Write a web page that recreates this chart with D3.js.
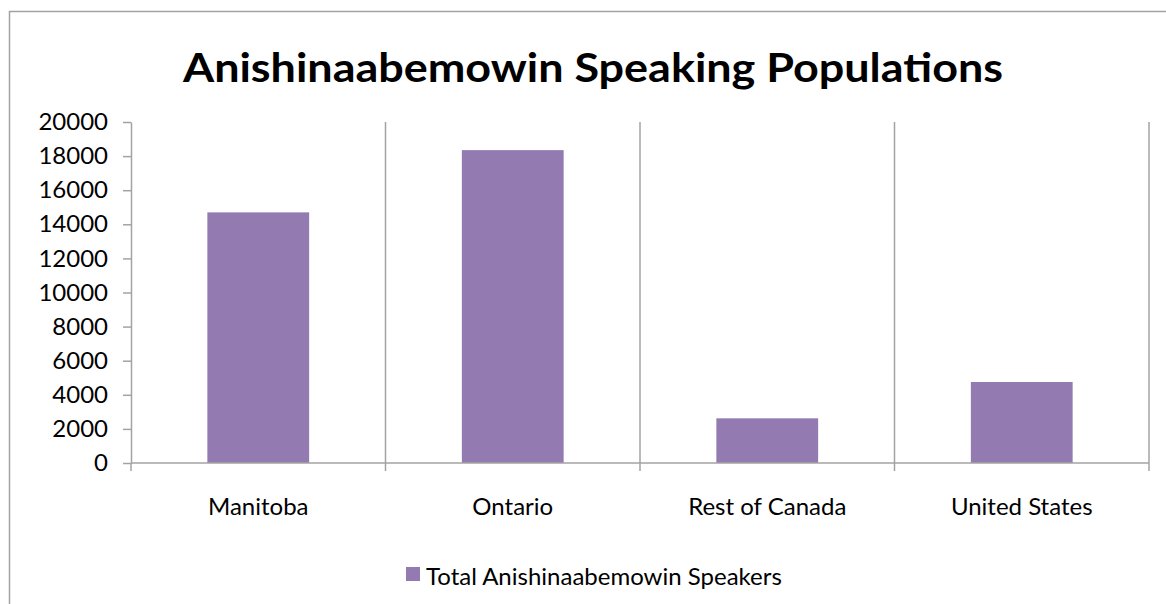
<!DOCTYPE html>
<html lang="en">
<head>
  <meta charset="UTF-8" />
  <title>Anishinaabemowin Speaking Populations</title>
  <script src="https://d3js.org/d3.v7.min.js"></script>
  <style>
    body { margin: 0; background: #fff; }
    text { font-family: Lato, "Open Sans", sans-serif; fill: #000; }
  </style>
</head>
<body>
  <svg width="1166" height="604"></svg>
  <script>
    const categories = ["Manitoba", "Ontario", "Rest of Canada", "United States"];
    const speakers = [14700, 18350, 2620, 4750];
    const yTicks = [0, 2000, 4000, 6000, 8000, 10000, 12000, 14000, 16000, 18000, 20000];
    const seriesName = "Total Anishinaabemowin Speakers";

    const svg = d3.select("svg");
    const barColor = "#937bb2";
    const lineColor = "#a3a3a3";
    const labelSize = 24;

    // outer chart frame
    svg.append("rect")
      .attr("x", 9.5).attr("y", 11.5)
      .attr("width", 1170).attr("height", 600)
      .attr("fill", "none").attr("stroke", lineColor).attr("stroke-width", 1.5);

    const plotLeft = 131, plotRight = 1149, plotTop = 122, plotBottom = 463;

    const x = d3.scaleBand().domain(categories).range([plotLeft, plotRight]).padding(0);
    const y = d3.scaleLinear().domain([0, 20000]).range([plotBottom, plotTop]);

    // title
    svg.append("text")
      .attr("x", 593).attr("y", 82)
      .attr("text-anchor", "middle")
      .attr("font-weight", "bold")
      .attr("font-size", 40)
      .attr("textLength", 820)
      .attr("lengthAdjust", "spacingAndGlyphs")
      .text("Anishinaabemowin Speaking Populations");

    // vertical gridlines at category boundaries
    const bounds = categories.map(c => x(c)).concat([x.range()[1]]);
    svg.append("g").selectAll("line")
      .data(bounds.slice(1))
      .join("line")
      .attr("x1", d => d).attr("x2", d => d)
      .attr("y1", plotTop).attr("y2", plotBottom)
      .attr("stroke", lineColor).attr("stroke-width", 1.5);

    // bars
    const barW = x.bandwidth() * 0.4;
    svg.append("g").selectAll("rect")
      .data(categories)
      .join("rect")
      .attr("x", d => x(d) + (x.bandwidth() - barW) / 2)
      .attr("y", (d, i) => y(speakers[i]))
      .attr("width", barW)
      .attr("height", (d, i) => plotBottom - y(speakers[i]))
      .attr("fill", barColor);

    // y axis
    const yAxis = svg.append("g")
      .attr("transform", `translate(${plotLeft},0)`)
      .call(d3.axisLeft(y).tickValues(yTicks).tickSize(8).tickSizeOuter(0).tickPadding(15).tickFormat(d3.format("d")));
    yAxis.selectAll("line, path").attr("stroke", lineColor).attr("stroke-width", 1.5);
    yAxis.selectAll("text").attr("font-size", labelSize).attr("fill", "#000")
      .style("font-family", "Lato, 'Open Sans', sans-serif");

    // x axis line and tick marks at boundaries
    svg.append("line")
      .attr("x1", plotLeft).attr("x2", plotRight)
      .attr("y1", plotBottom).attr("y2", plotBottom)
      .attr("stroke", lineColor).attr("stroke-width", 1.5);
    svg.append("g").selectAll("line")
      .data(bounds)
      .join("line")
      .attr("x1", d => d).attr("x2", d => d)
      .attr("y1", plotBottom).attr("y2", plotBottom + 8)
      .attr("stroke", lineColor).attr("stroke-width", 1.5);

    // category labels
    svg.append("g").selectAll("text")
      .data(categories)
      .join("text")
      .attr("x", d => x(d) + x.bandwidth() / 2)
      .attr("y", 515)
      .attr("text-anchor", "middle")
      .attr("font-size", labelSize)
      .text(d => d);

    // legend
    svg.append("rect")
      .attr("x", 406).attr("y", 567)
      .attr("width", 14).attr("height", 14)
      .attr("fill", barColor);
    svg.append("text")
      .attr("x", 426).attr("y", 585)
      .attr("font-size", labelSize)
      .text(seriesName);
  </script>
</body>
</html>
